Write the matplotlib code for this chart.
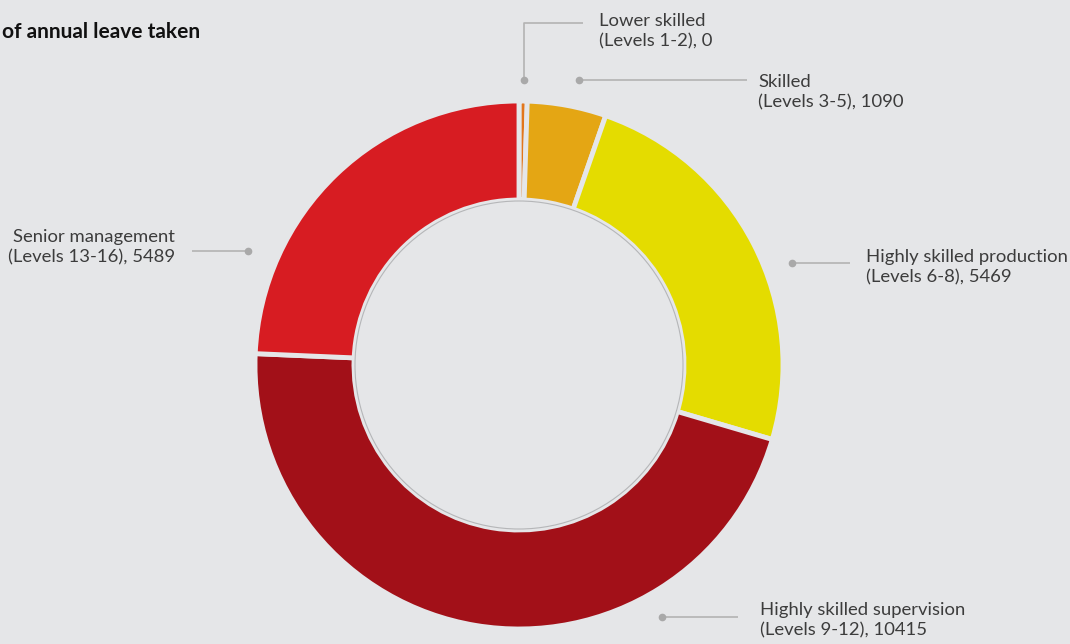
import matplotlib.pyplot as plt

# Data
labels = ['Lower skilled\n(Levels 1-2), 0',
          'Skilled\n(Levels 3-5), 1090',
          'Highly skilled production\n(Levels 6-8), 5469',
          'Highly skilled supervision\n(Levels 9-12), 10415',
          'Senior management\n(Levels 13-16), 5489']
values = [0, 1090, 5469, 10415, 5489]
colors = ['#E2761B', '#E4A614', '#E4DC00', '#A21018', '#D71C22']

BG = '#E5E6E8'
W, H = 1070, 644

plt.rcParams['font.family'] = ['Lato', 'DejaVu Sans']

fig = plt.figure(figsize=(W / 100, H / 100), dpi=100, facecolor=BG)
ax = fig.add_axes([0, 0, 1, 1])

def py(y):
    # convert pixel y (from top) to data y
    return H - y

cx, cy, r = 519, py(365), 264
# a zero slice is still drawn as a hairline sliver, as in the source
total = sum(values)
shown = [max(v, total * 0.005) for v in values]
wedges, _ = ax.pie(shown, colors=colors, startangle=90, counterclock=False,
                   center=(cx, cy), radius=r, frame=True,
                   wedgeprops=dict(width=r * 0.375, edgecolor=BG, linewidth=3.5))
ax.set_xlim(0, W)
ax.set_ylim(0, H)
ax.set_aspect('equal')
ax.axis('off')
inner = plt.Circle((cx, cy), r * 0.625 - 1, fill=False, edgecolor='#b5b6b8', linewidth=0.8)
ax.add_patch(inner)

line_c = '#b3b3b3'
text_c = '#3c3c3c'
fs = 13.3

def leader(pts, tx, ty, text, ha='left'):
    xs = [p[0] for p in pts]
    ys = [py(p[1]) for p in pts]
    ax.plot(xs, ys, color=line_c, lw=1.2, solid_capstyle='butt')
    ax.plot(xs[0], ys[0], 'o', color='#a9a9a9', ms=4.5)
    ax.text(tx, py(ty), text, ha=ha, va='center', fontsize=fs, color=text_c,
            linespacing=1.3, multialignment='right' if ha == 'right' else 'left')

leader([(524, 80), (524, 23), (583, 23)], 599, 31, labels[0])
leader([(579, 80), (747, 80)], 758, 92, labels[1])
leader([(792, 263), (850, 263)], 866, 267, labels[2])
leader([(662, 617), (738, 617)], 760, 620, labels[3])
leader([(248, 251), (192, 251)], 175, 247, labels[4], ha='right')

ax.text(2, py(32), 'of annual leave taken', ha='left', va='center',
        fontsize=15, fontweight='bold', color='#111111')

fig.savefig('out.png', dpi=100, facecolor=BG)
